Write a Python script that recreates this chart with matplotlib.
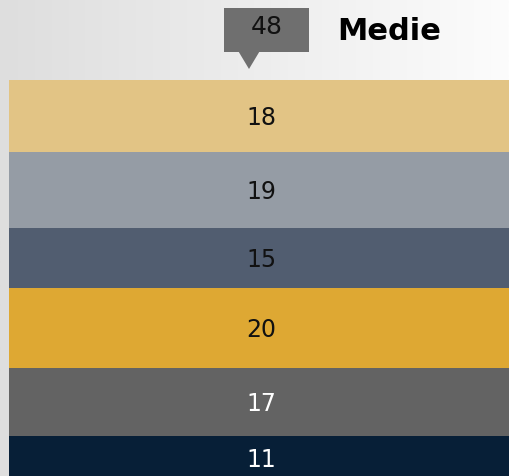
import matplotlib
matplotlib.use("Agg")
import matplotlib.pyplot as plt
import matplotlib.transforms as mtransforms
from matplotlib.patches import Polygon
import numpy as np

# stacked shares, top to bottom
values = [18, 19, 15, 20, 17, 11]
colors = ['#e2c485', '#959ca5', '#515d70', '#dea833', '#636363', '#071f37']
text_colors = ['#111111', '#111111', '#111111', '#111111', '#ffffff', '#ffffff']
mean_val = 48
mean_label = "Medie"

W, H = 509, 476
fig = plt.figure(figsize=(W / 100, H / 100), dpi=100)

# soft horizontal grey-to-white backdrop
bg = fig.add_axes([0, 0, 1, 1], zorder=0)
grad = np.linspace(0, 1, 256).reshape(1, -1)
bg.imshow(grad, aspect='auto', cmap=matplotlib.colors.LinearSegmentedColormap.from_list('bg', ['#dedede', '#fcfcfc']),
          extent=[0, 1, 0, 1])
bg.set_axis_off()

# the bar itself: 0..100 scale runs top to bottom, mean scale runs left to right
ax = fig.add_axes([9 / W, (H - 480) / H, 500 / W, 400 / H], zorder=1)
ax.set_xlim(0, 100)
ax.set_ylim(100, 0)
ax.set_axis_off()

lower = mtransforms.offset_copy(ax.transData, fig=fig, x=0, y=-2, units='dots')
bottom = 0
for v, c, tc in zip(values, colors, text_colors):
    ax.bar(50, v, width=100, bottom=bottom, color=c, edgecolor='none')
    ax.text(50.5, bottom + v / 2, str(v), ha='center', va='center', fontsize=17, color=tc,
            transform=lower)
    bottom += v

# callout marking the mean
tip_x, tip_y = ax.transData.transform((mean_val, 0))
tip_y += 11
shift = mtransforms.Affine2D().translate(tip_x, tip_y)
box = Polygon([(-25, 17), (60, 17), (60, 61), (-25, 61)], closed=True,
              facecolor='#6f6f6f', edgecolor='none', transform=shift, zorder=3)
arrow = Polygon([(-10.5, 17.5), (10.5, 17.5), (0, 0)], closed=True,
                facecolor='#6f6f6f', edgecolor='none', transform=shift, zorder=3)
fig.add_artist(box)
fig.add_artist(arrow)
fig.text(tip_x + 17.5, tip_y + 42, str(mean_val), transform=mtransforms.IdentityTransform(),
         ha='center', va='center', fontsize=18, color='#111111', zorder=4)
fig.text(tip_x + 88, tip_y + 37, mean_label, transform=mtransforms.IdentityTransform(),
         ha='left', va='center', fontsize=22, fontweight='bold', color='#000000', zorder=4)

fig.savefig("out.png", dpi=100)
